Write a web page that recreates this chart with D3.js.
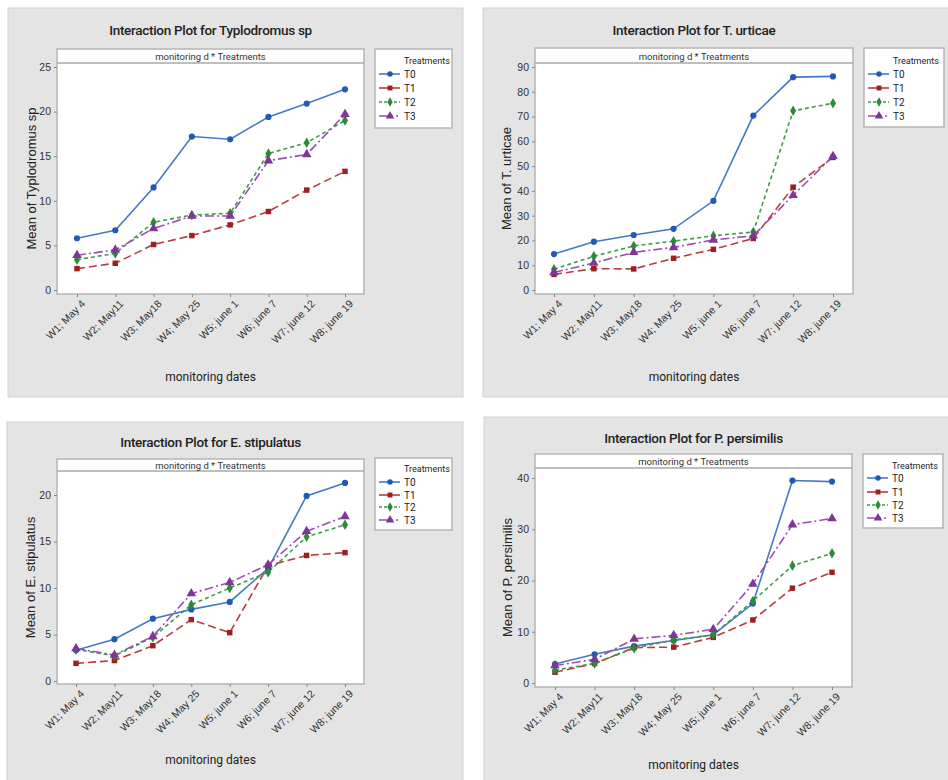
<!DOCTYPE html>
<html lang="en">
<head>
    <meta charset="UTF-8">
    <title>Interaction Plots</title>
    <style>
        body {
            margin: 0;
            background: #ffffff;
            font-family: Roboto, "Noto Sans", Arial, sans-serif;
        }
        .tick-label { font-size: 10.5px; fill: #333; }
        .title { font-size: 13.5px; font-weight: 500; fill: #222; letter-spacing: -0.3px; }
        .strip { font-size: 9.5px; fill: #333; }
        .axis-label { font-size: 12px; fill: #222; }
        .legend-text { font-size: 10px; fill: #222; }
    </style>
    <script src="https://d3js.org/d3.v7.min.js"></script>
</head>
<body>
    <div id="chart"></div>

    <script>
        // monitoring dates (x categories)
        const dates = ["W1; May 4", "W2; May11", "W3; May18", "W4; May 25",
                       "W5; june 1", "W6; june 7", "W7; june 12", "W8; june 19"];
        const treatments = ["T0", "T1", "T2", "T3"];

        // means, one array per treatment
        const typloT0 = [5.8, 6.7, 11.5, 17.2, 16.9, 19.4, 20.9, 22.5];
        const typloT1 = [2.4, 3.0, 5.1, 6.1, 7.3, 8.8, 11.2, 13.3];
        const typloT2 = [3.4, 4.1, 7.6, 8.4, 8.6, 15.3, 16.5, 19.0];
        const typloT3 = [3.9, 4.5, 6.9, 8.3, 8.3, 14.5, 15.2, 19.7];

        const urticaeT0 = [14.5, 19.5, 22.2, 24.7, 36.0, 70.4, 85.9, 86.2];
        const urticaeT1 = [6.3, 8.6, 8.5, 12.8, 16.4, 20.8, 41.5, 53.5];
        const urticaeT2 = [8.4, 13.6, 17.8, 19.7, 21.9, 23.4, 72.3, 75.4];
        const urticaeT3 = [7.1, 10.9, 15.2, 17.2, 20.2, 21.9, 38.2, 54.0];

        const stipT0 = [3.3, 4.5, 6.7, 7.7, 8.5, 12.1, 19.9, 21.3];
        const stipT1 = [1.9, 2.2, 3.8, 6.6, 5.2, 12.4, 13.5, 13.8];
        const stipT2 = [3.4, 2.7, 4.7, 8.2, 10.0, 11.7, 15.5, 16.8];
        const stipT3 = [3.5, 2.8, 4.8, 9.4, 10.6, 12.5, 16.1, 17.7];

        const persT0 = [3.7, 5.6, 7.2, 8.3, 9.4, 15.5, 39.5, 39.3];
        const persT1 = [2.1, 3.8, 6.9, 7.0, 8.9, 12.3, 18.5, 21.6];
        const persT2 = [2.5, 3.8, 6.8, 8.4, 9.4, 16.0, 22.9, 25.3];
        const persT3 = [3.4, 4.6, 8.6, 9.3, 10.5, 19.3, 30.9, 32.1];

        const titles = ["Typlodromus sp", "T. urticae", "E. stipulatus", "P. persimilis"];
        const yTicks = [[0, 5, 10, 15, 20, 25], [0, 10, 20, 30, 40, 50, 60, 70, 80, 90],
                        [0, 5, 10, 15, 20], [0, 10, 20, 30, 40]];
        const seriesData = [
            [typloT0, typloT1, typloT2, typloT3],
            [urticaeT0, urticaeT1, urticaeT2, urticaeT3],
            [stipT0, stipT1, stipT2, stipT3],
            [persT0, persT1, persT2, persT3]
        ];

        // look of each treatment
        const lineColors = ["#4479c6", "#b83c3c", "#3c9c45", "#9b4db2"];
        const markColors = ["#1f5bb5", "#9c1f22", "#2a8a35", "#7f3698"];
        const dashes = [null, "8,4", "4,3", "9,3,2,3"];
        const symbols = [d3.symbolCircle, d3.symbolSquare, d3.symbolDiamond, d3.symbolTriangle];
        const symSizes = [30, 30, 32, 40];

        // panel placement on the page
        const layouts = [
            { bg: [8, 8, 455, 389], box: [57, 49, 307, 245], strip: 14, y0: 290, yTop: 67, yMax: 25,
              x1: 77, x8: 345, titleY: 30, xLabY: 377, yLabX: 31, leg: [375, 49, 77, 79], rows: [61, 74, 88, 102, 116] },
            { bg: [483, 8, 470, 389], box: [535, 48, 318, 246], strip: 15, y0: 290, yTop: 67, yMax: 90,
              x1: 554, x8: 833, titleY: 30, xLabY: 377, yLabX: 506, leg: [864, 48, 80, 79], rows: [61, 74, 88, 102, 116] },
            { bg: [7, 422, 456, 362], box: [57, 459, 307, 225], strip: 12, y0: 681, yTop: 495, yMax: 20,
              x1: 76, x8: 345, titleY: 442, xLabY: 760, yLabX: 30, leg: [375, 458, 77, 72], rows: [469, 482, 495, 507, 520] },
            { bg: [484, 417, 470, 370], box: [535, 454, 317, 233], strip: 14, y0: 683, yTop: 478, yMax: 40,
              x1: 555, x8: 832, titleY: 438, xLabY: 765, yLabX: 507, leg: [863, 454, 80, 74], rows: [466, 478, 492, 505, 518] }
        ];

        const svg = d3.select("#chart").append("svg")
            .attr("width", 948)
            .attr("height", 780);

        function drawPanel(i) {
            const L = layouts[i];
            const g = svg.append("g");

            // gray background
            g.append("rect")
                .attr("x", L.bg[0]).attr("y", L.bg[1])
                .attr("width", L.bg[2]).attr("height", L.bg[3])
                .attr("fill", "#e4e4e4")
                .attr("stroke", "#d2d2d2");

            const bx = L.box[0], by = L.box[1], bw = L.box[2], bh = L.box[3];
            const cx = bx + bw / 2;

            g.append("text").attr("class", "title")
                .attr("x", cx).attr("y", L.titleY)
                .attr("text-anchor", "middle").attr("dy", "0.35em")
                .text("Interaction Plot for " + titles[i]);

            // plot box
            g.append("rect")
                .attr("x", bx).attr("y", by).attr("width", bw).attr("height", bh)
                .attr("fill", "#fff").attr("stroke", "#b5b5b5").attr("stroke-width", 1.5);
            g.append("line")
                .attr("x1", bx).attr("x2", bx + bw)
                .attr("y1", by + L.strip).attr("y2", by + L.strip)
                .attr("stroke", "#a8a8a8").attr("stroke-width", 1.5);
            g.append("text").attr("class", "strip")
                .attr("x", cx).attr("y", by + L.strip / 2 + 1)
                .attr("text-anchor", "middle").attr("dy", "0.35em")
                .text("monitoring d * Treatments");

            const x = d3.scalePoint().domain(dates).range([L.x1, L.x8]);
            const y = d3.scaleLinear().domain([0, L.yMax]).range([L.y0, L.yTop]);

            // y axis
            const yAxis = g.append("g")
                .attr("transform", `translate(${bx},0)`)
                .call(d3.axisLeft(y).tickValues(yTicks[i]).tickSize(3).tickPadding(3));
            yAxis.select(".domain").remove();
            yAxis.selectAll("line").attr("stroke", "#888");
            yAxis.selectAll("text").attr("class", "tick-label")
                .attr("font-family", null).attr("font-size", null);

            // x axis
            const xAxis = g.append("g")
                .attr("transform", `translate(0,${by + bh})`)
                .call(d3.axisBottom(x).tickSize(3).tickPadding(3));
            xAxis.select(".domain").remove();
            xAxis.selectAll("line").attr("stroke", "#888");
            xAxis.selectAll("text")
                .attr("class", "tick-label")
                .attr("font-family", null).attr("font-size", null)
                .attr("text-anchor", "end")
                .attr("transform", "translate(3,5) rotate(-45)")
                .attr("dy", "0.35em")
                .attr("y", 4).attr("x", 0);

            g.append("text").attr("class", "axis-label")
                .attr("x", cx).attr("y", L.xLabY)
                .attr("text-anchor", "middle").attr("dy", "0.35em")
                .text("monitoring dates");
            g.append("text").attr("class", "axis-label")
                .attr("transform", `translate(${L.yLabX},${(by + L.strip + by + bh) / 2}) rotate(-90)`)
                .attr("text-anchor", "middle").attr("dy", "0.35em")
                .style("font-family", "Arial, 'Liberation Sans', sans-serif")
                .style("font-size", "13px")
                .text("Mean of " + titles[i]);

            // series
            const line = d3.line().x((d, k) => x(dates[k])).y(d => y(d));
            seriesData[i].forEach((vals, t) => {
                g.append("path")
                    .datum(vals)
                    .attr("d", line)
                    .attr("fill", "none")
                    .attr("stroke", lineColors[t])
                    .attr("stroke-width", 1.6)
                    .attr("stroke-dasharray", dashes[t]);
            });
            seriesData[i].forEach((vals, t) => {
                g.selectAll(null)
                    .data(vals)
                    .enter()
                    .append("path")
                    .attr("d", d3.symbol().type(symbols[t]).size(symSizes[t]))
                    .attr("transform", (d, k) => `translate(${x(dates[k])},${y(d)})`)
                    .attr("fill", markColors[t]);
            });

            // legend
            g.append("rect")
                .attr("x", L.leg[0]).attr("y", L.leg[1])
                .attr("width", L.leg[2]).attr("height", L.leg[3])
                .attr("fill", "#fff").attr("stroke", "#b5b5b5").attr("stroke-width", 1.5);
            const lx = L.leg[0] + 4;
            g.append("text").attr("class", "legend-text")
                .attr("x", lx + 25).attr("y", L.rows[0])
                .attr("dy", "0.35em").style("font-size", "9px")
                .text("Treatments");
            treatments.forEach((tr, t) => {
                const ry = L.rows[t + 1];
                g.append("line")
                    .attr("x1", lx).attr("x2", lx + 21)
                    .attr("y1", ry).attr("y2", ry)
                    .attr("stroke", lineColors[t]).attr("stroke-width", 1.6)
                    .attr("stroke-dasharray", t === 2 ? "3,2" : (t === 3 ? "14,3,2,3" : null));
                g.append("path")
                    .attr("d", d3.symbol().type(symbols[t]).size(symSizes[t] * 0.8))
                    .attr("transform", `translate(${lx + 11},${ry})`)
                    .attr("fill", markColors[t]);
                g.append("text").attr("class", "legend-text")
                    .attr("x", lx + 25).attr("y", ry)
                    .attr("dy", "0.35em")
                    .text(tr);
            });
        }

        layouts.forEach((L, i) => drawPanel(i));
    </script>
</body>
</html>
